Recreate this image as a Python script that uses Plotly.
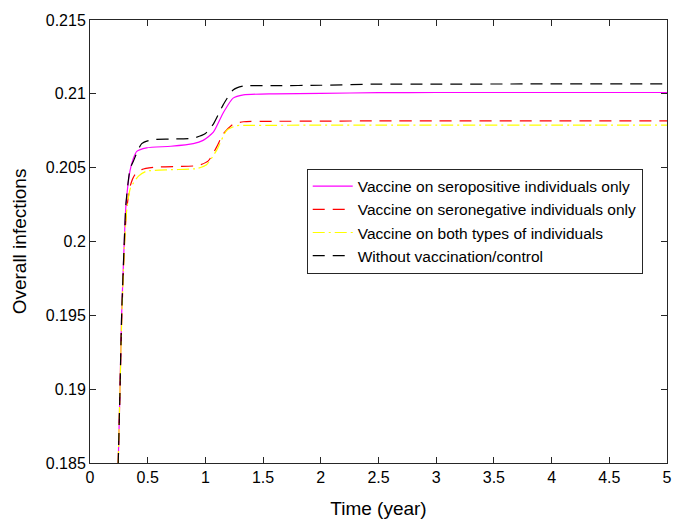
import plotly.graph_objects as go

# Time points (years) and series values
t_mag = [0.24, 0.26, 0.274, 0.297, 0.312, 0.347, 0.375, 0.405, 0.49, 0.7, 0.895, 0.98, 1.069, 1.155, 1.24, 1.33, 1.6, 2.0, 2.5, 3.0, 4.0, 5.0]
y_mag = [0.1835, 0.19, 0.195, 0.2, 0.2025, 0.2048, 0.2056, 0.2061, 0.20634, 0.20645, 0.20663, 0.20685, 0.2074, 0.20872, 0.20971, 0.20993, 0.21, 0.21003, 0.21008, 0.21009, 0.21009, 0.21009]

t_red = [0.24, 0.26, 0.276, 0.3, 0.318, 0.35, 0.39, 0.448, 0.549, 0.75, 0.939, 1.025, 1.098, 1.155, 1.24, 1.33, 1.6, 2.0, 2.5, 3.0, 4.0, 5.0]
y_red = [0.1835, 0.19, 0.195, 0.2, 0.2022, 0.2038, 0.20454, 0.20487, 0.20502, 0.20508, 0.20515, 0.20546, 0.20641, 0.20729, 0.20795, 0.20811, 0.20814, 0.20815, 0.20817, 0.20817, 0.20817, 0.20817]

t_yel = [0.24, 0.26, 0.276, 0.3, 0.318, 0.35, 0.42, 0.49, 0.7, 0.924, 1.01, 1.098, 1.183, 1.27, 1.4, 1.6, 2.0, 2.5, 3.0, 4.0, 5.0]
y_yel = [0.1835, 0.19, 0.195, 0.2, 0.2021, 0.2036, 0.20443, 0.20476, 0.20486, 0.20494, 0.2052, 0.20619, 0.20751, 0.20784, 0.20786, 0.20787, 0.20788, 0.20788, 0.20788, 0.20788, 0.20788]

t_blk = [0.24, 0.26, 0.274, 0.297, 0.312, 0.347, 0.375, 0.448, 0.534, 0.7, 0.895, 0.997, 1.069, 1.155, 1.24, 1.33, 1.6, 2.0, 2.5, 3.0, 4.0, 5.0]
y_blk = [0.1835, 0.19, 0.195, 0.2, 0.2026, 0.2049, 0.20542, 0.20663, 0.20689, 0.20694, 0.207, 0.20729, 0.20795, 0.20927, 0.21026, 0.21053, 0.21055, 0.21058, 0.21066, 0.21066, 0.21067, 0.21067]

names = ["Vaccine on seropositive individuals only",
         "Vaccine on seronegative individuals only",
         "Vaccine on both types of individuals",
         "Without vaccination/control"]

x_ticks = [0, 0.5, 1, 1.5, 2, 2.5, 3, 3.5, 4, 4.5, 5]
x_labels = ["0", "0.5", "1", "1.5", "2", "2.5", "3", "3.5", "4", "4.5", "5"]
y_ticks = [0.185, 0.19, 0.195, 0.2, 0.205, 0.21, 0.215]
y_labels = ["0.185", "0.19", "0.195", "0.2", "0.205", "0.21", "0.215"]

FONT = "Liberation Sans, Arial, sans-serif"

fig = go.Figure()
fig.add_trace(go.Scatter(x=t_mag, y=y_mag, mode="lines", name=names[0],
                         line=dict(color="#ff00ff", width=1.2, shape="spline", smoothing=0.6)))
fig.add_trace(go.Scatter(x=t_red, y=y_red, mode="lines", name=names[1],
                         line=dict(color="#ff0000", width=1.2, dash="12px,8px", shape="spline", smoothing=0.6)))
fig.add_trace(go.Scatter(x=t_yel, y=y_yel, mode="lines", name=names[2],
                         line=dict(color="#ffff00", width=1.2, dash="12px,4px,2px,4px", shape="spline", smoothing=0.6)))
fig.add_trace(go.Scatter(x=t_blk, y=y_blk, mode="lines", name=names[3],
                         line=dict(color="#000000", width=1.2, dash="12px,8px", shape="spline", smoothing=0.6)))

axis_common = dict(showline=True, linecolor="#262626", linewidth=1, mirror="allticks",
                   ticks="inside", ticklen=6, tickcolor="#262626", showgrid=False, zeroline=False,
                   tickfont=dict(family=FONT, size=16, color="#000000"))

fig.update_xaxes(range=[0, 5], tickvals=x_ticks, ticktext=x_labels,
                 title=dict(text="Time (year)", font=dict(family=FONT, size=19, color="#000000"), standoff=16),
                 **axis_common)
fig.update_yaxes(range=[0.185, 0.215], tickvals=y_ticks, ticktext=y_labels,
                 title=dict(text="Overall infections", font=dict(family=FONT, size=19, color="#000000"), standoff=14),
                 **axis_common)

fig.update_layout(
    width=685, height=528,
    margin=dict(l=90, r=18, t=15, b=59),
    paper_bgcolor="white", plot_bgcolor="white",
    showlegend=True,
    legend=dict(x=0.3756, y=0.6645, xanchor="left", yanchor="top",
                bgcolor="white", bordercolor="#262626", borderwidth=1,
                font=dict(family=FONT, size=15.5, color="#000000"),
                itemwidth=40, tracegroupgap=0),
)

fig.write_html("out.html")
